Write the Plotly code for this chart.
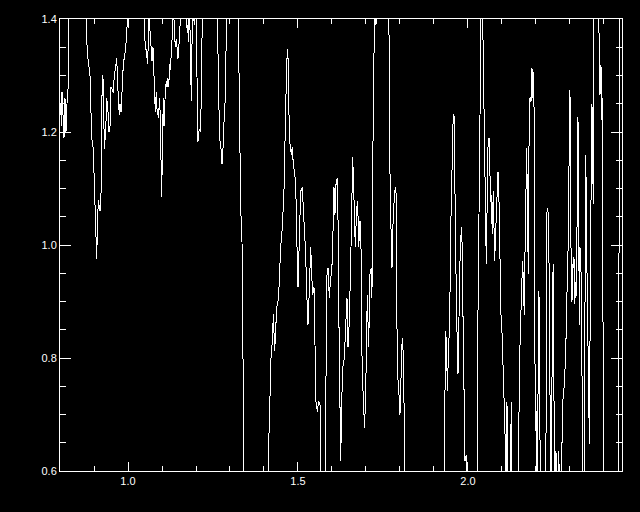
import plotly.graph_objects as go

wavelength = [
    0.8015, 0.8044, 0.8059, 0.8088, 0.8118, 0.8147, 0.8176, 0.8206, 0.8235, 0.8265, 0.8706,
    0.8735, 0.8803, 0.8882, 0.8932, 0.8979, 0.9029, 0.9059, 0.9079, 0.9097, 0.9126, 0.9176,
    0.9215, 0.9226, 0.9244, 0.9274, 0.9303, 0.9344, 0.9374, 0.9421, 0.9441, 0.9471, 0.9500,
    0.9568, 0.9597, 0.9647, 0.9668, 0.9715, 0.9744, 0.9765, 0.9794, 0.9832, 0.9862, 0.9912,
    0.9962, 1.0009,
    1.0456, 1.0485, 1.0515, 1.0550, 1.0579, 1.0609, 1.0626, 1.0647, 1.0676, 1.0706, 1.0735,
    1.0756, 1.0785, 1.0803, 1.0832, 1.0862, 1.0882, 1.0903, 1.0921, 1.0950, 1.0971, 1.0991,
    1.1009, 1.1038, 1.1059, 1.1079, 1.1097, 1.1126, 1.1147, 1.1176, 1.1197, 1.1226, 1.1256,
    1.1274, 1.1294, 1.1315, 1.1344, 1.1374, 1.1391, 1.1421, 1.1441, 1.1471, 1.1491, 1.1521,
    1.1550, 1.1588, 1.1685, 1.1715, 1.1744, 1.1785, 1.1803, 1.1832, 1.1862, 1.1882, 1.1903,
    1.1932, 1.1962, 1.1991, 1.2009, 1.2038, 1.2059, 1.2079, 1.2109, 1.2138, 1.2156, 1.2176,
    1.2197, 1.2618, 1.2638, 1.2647, 1.2668, 1.2697, 1.2726, 1.2744, 1.2765, 1.2794, 1.2815,
    1.2832, 1.2862, 1.2882, 1.2912, 1.3235, 1.3256, 1.3285, 1.3315, 1.3353, 1.3374, 1.3403,
    1.3426,
    1.4074, 1.4147, 1.4176, 1.4215, 1.4244, 1.4274, 1.4315, 1.4344, 1.4374, 1.4412, 1.4441,
    1.4491, 1.4538, 1.4588, 1.4618, 1.4647, 1.4685, 1.4706, 1.4735, 1.4765, 1.4803, 1.4832,
    1.4862, 1.4903, 1.4932, 1.4962, 1.5000, 1.5038, 1.5079, 1.5126, 1.5156, 1.5197, 1.5226,
    1.5256, 1.5294, 1.5332, 1.5374, 1.5403, 1.5432, 1.5471, 1.5500, 1.5529, 1.5568, 1.5609,
    1.5647, 1.5700, 1.5794, 1.5844, 1.5882, 1.5921, 1.5962, 1.5991, 1.6021, 1.6038, 1.6059,
    1.6088, 1.6118, 1.6156, 1.6168,
    1.6197, 1.6235, 1.6256, 1.6285, 1.6315, 1.6362, 1.6412, 1.6441, 1.6471, 1.6509, 1.6559,
    1.6588, 1.6609, 1.6638, 1.6668, 1.6685, 1.6726, 1.6756, 1.6785, 1.6824, 1.6853, 1.6882,
    1.6921, 1.6962, 1.7000, 1.7038, 1.7079, 1.7118, 1.7156, 1.7176, 1.7197, 1.7226, 1.7244,
    1.7294, 1.7324, 1.7662, 1.7685, 1.7715, 1.7744, 1.7765, 1.7785, 1.7803, 1.7832, 1.7862,
    1.7882, 1.7903, 1.7932, 1.7962, 1.7979, 1.8000, 1.8029, 1.8059, 1.8079, 1.8109, 1.8126,
    1.8147,
    1.9279, 1.9315, 1.9344, 1.9374, 1.9391, 1.9432, 1.9462, 1.9491, 1.9529, 1.9559, 1.9588,
    1.9609, 1.9626, 1.9656, 1.9685, 1.9706, 1.9735, 1.9765, 1.9803, 1.9832, 1.9853, 1.9882,
    1.9912, 1.9950, 1.9979, 2.0279, 2.0294, 2.0324, 2.0344, 2.0374, 2.0391, 2.0421, 2.0441,
    2.0471, 2.0491, 2.0509, 2.0538, 2.0559, 2.0588, 2.0618, 2.0638, 2.0668, 2.0685, 2.0715,
    2.0744, 2.0785, 2.0815, 2.0853, 2.0882, 2.0912, 2.0941, 2.0971, 2.1000, 2.1029, 2.1059,
    2.1088, 2.1118, 2.1147, 2.1176, 2.1226, 2.1274, 2.1303, 2.1471, 2.1500, 2.1529, 2.1579,
    2.1609, 2.1626, 2.1656, 2.1676, 2.1706, 2.1726, 2.1756, 2.1774, 2.1794, 2.1824, 2.1853,
    2.1882, 2.1903, 2.1921, 2.1941, 2.1962, 2.1979, 2.2000, 2.2021, 2.2050, 2.2068, 2.2088,
    2.2109, 2.2126, 2.2265, 2.2294, 2.2315, 2.2344, 2.2374, 2.2391, 2.2412, 2.2441, 2.2471,
    2.2491, 2.2509, 2.2529, 2.2550, 2.2588, 2.2626, 2.2668, 2.2685, 2.2726, 2.2785, 2.2815,
    2.2844, 2.2874, 2.2903, 2.2932, 2.2962, 2.2979, 2.3000, 2.3021, 2.3038, 2.3059, 2.3079,
    2.3097, 2.3118, 2.3138, 2.3156, 2.3176, 2.3197, 2.3215, 2.3235, 2.3256, 2.3274, 2.3294,
    2.3315, 2.3332, 2.3353, 2.3374, 2.3391, 2.3412, 2.3441, 2.3462, 2.3479, 2.3500, 2.3521,
    2.3538, 2.3568, 2.3588, 2.3609, 2.3626, 2.3647, 2.3668, 2.3685, 2.3706, 2.3844, 2.3862,
    2.3882, 2.3912, 2.3932, 2.3950, 2.3971, 2.3991, 2.4412, 2.4471, 2.4529,
]

flux = [
    1.25, 1.21, 1.27, 1.22, 1.19, 1.26, 1.20, 1.25, 1.27, 1.50, 1.50,
    1.45, 1.34, 1.30, 1.19, 1.17, 1.077, 1.00, 0.975, 1.02, 1.08, 1.06,
    1.10, 1.22, 1.30, 1.29, 1.17, 1.20, 1.26, 1.23, 1.20, 1.21, 1.28,
    1.27, 1.30, 1.32, 1.33, 1.26, 1.23, 1.25, 1.235, 1.28, 1.32, 1.34,
    1.37, 1.45,
    1.45, 1.37, 1.35, 1.33, 1.32, 1.39, 1.45, 1.38, 1.34, 1.325, 1.35,
    1.31, 1.27, 1.236, 1.27, 1.23, 1.235, 1.225, 1.26, 1.23, 1.15, 1.085,
    1.16, 1.26, 1.21, 1.255, 1.27, 1.29, 1.28, 1.295, 1.28, 1.32, 1.31,
    1.35, 1.36, 1.45, 1.39, 1.37, 1.35, 1.365, 1.35, 1.33, 1.345, 1.37,
    1.39, 1.45, 1.45, 1.385, 1.39, 1.36, 1.45, 1.32, 1.255, 1.35, 1.45,
    1.40, 1.39, 1.45, 1.35, 1.243, 1.183, 1.20, 1.205, 1.20, 1.28, 1.32,
    1.45, 1.45, 1.35, 1.32, 1.26, 1.19, 1.175, 1.165, 1.143, 1.17, 1.19,
    1.24, 1.255, 1.34, 1.45, 1.45, 1.32, 1.19, 1.066, 1.006, 0.86, 0.712,
    0.50,
    0.50, 0.670, 0.748, 0.819, 0.824, 0.877, 0.812, 0.847, 0.890, 0.900, 0.925,
    0.996, 1.031, 1.095, 1.208, 1.266, 1.346, 1.332, 1.231, 1.178, 1.160, 1.173,
    1.143, 1.125, 1.112, 1.019, 0.925, 1.006, 1.095, 1.102, 1.072, 1.019, 0.983,
    0.918, 0.859, 0.918, 0.996, 0.948, 0.912, 0.925, 0.847, 0.723, 0.705, 0.723,
    0.720, 0.50, 0.50, 0.943, 0.960, 0.907, 0.943, 0.948, 1.000, 1.042, 1.102,
    1.054, 1.107, 1.119, 1.112,
    0.900, 0.682, 0.617, 0.718, 0.783, 0.800, 0.854, 0.907, 0.819, 0.865, 0.996,
    1.102, 1.155, 1.102, 1.054, 0.996, 1.066, 1.077, 0.996, 1.042, 0.996, 0.806,
    0.723, 0.677, 0.771, 0.912, 0.819, 0.948, 0.960, 0.907, 1.183, 1.187, 1.45,
    1.39, 1.45, 1.45, 1.332, 1.042, 1.024, 0.960, 1.024, 1.054, 1.084, 1.102,
    1.102, 0.890, 0.771, 0.741, 0.730, 0.700, 0.776, 0.824, 0.836, 0.771, 0.677,
    0.50,
    0.50, 0.753, 0.847, 0.819, 0.741, 0.819, 0.865, 1.024, 1.172, 1.213, 1.231,
    1.172, 1.024, 0.877, 0.819, 0.771, 0.890, 0.971, 1.031, 0.996, 0.877, 0.700,
    0.617, 0.629, 0.50, 0.50, 0.877, 1.054, 1.219, 1.373, 1.45, 1.45, 1.35,
    1.29, 1.20, 1.066, 0.966, 1.054, 1.172, 1.190, 1.148, 1.077, 1.089, 1.019,
    1.095, 0.971, 1.024, 1.077, 1.130, 1.077, 0.94, 0.877, 0.847, 0.759, 0.730,
    0.670, 0.50, 0.723, 0.50, 0.50, 0.723, 0.50, 0.50, 0.700, 0.820, 0.925,
    0.971, 0.935, 0.877, 0.983, 1.148, 1.172, 1.036, 0.948, 1.172, 1.261, 1.254,
    1.314, 1.261, 1.307, 1.261, 0.771, 0.670, 0.712, 0.50, 0.50, 0.918, 0.912,
    0.842, 0.50, 0.50, 0.642, 1.054, 1.066, 1.042, 0.819, 0.739, 0.50, 0.877,
    0.935, 0.966, 0.642, 0.50, 0.635, 0.50, 0.635, 0.50, 0.50, 0.723, 0.735,
    0.771, 0.800, 0.907, 0.935, 1.095, 1.236, 1.275, 1.024, 0.935, 0.900, 0.966,
    0.960, 0.978, 0.895, 0.935, 0.907, 0.960, 1.049, 1.226, 1.054, 0.859, 0.996,
    0.983, 0.925, 0.819, 0.771, 0.50, 0.50, 1.077, 1.160, 1.089, 0.935, 0.824,
    0.819, 0.647, 0.819, 1.143, 1.143, 1.249, 1.130, 1.072, 1.45, 1.45, 1.314,
    1.266, 1.319, 1.222, 1.260, 0.82, 0.50, 0.50, 1.45, 1.45,
]

x_range = [0.8, 2.453]
y_range = [0.6, 1.4]
x_ticks = [1.0, 1.5, 2.0]
x_tick_labels = ["1.0", "1.5", "2.0"]
y_ticks = [0.6, 0.8, 1.0, 1.2, 1.4]
y_tick_labels = ["0.6", "0.8", "1.0", "1.2", "1.4"]

fig = go.Figure()
fig.add_trace(go.Scatter(
    x=wavelength, y=flux, mode="lines",
    line=dict(color="white", width=1),
    showlegend=False, hoverinfo="skip",
))

font = dict(family="Liberation Sans, Arial, sans-serif", size=11, color="white")

fig.update_layout(
    width=640, height=512,
    paper_bgcolor="black", plot_bgcolor="black",
    margin=dict(l=60, r=18, t=19, b=41, autoexpand=False),
    font=font,
    xaxis=dict(
        range=x_range, showgrid=False, zeroline=False, automargin=False,
        showline=True, linecolor="white", linewidth=1, mirror="ticks",
        ticks="inside", ticklen=9, tickwidth=1, tickcolor="white",
        tickvals=x_ticks, ticktext=x_tick_labels, tickfont=font,
        minor=dict(dtick=0.1, tick0=0, ticks="inside", ticklen=5,
                   tickwidth=1, tickcolor="white", showgrid=False),
    ),
    yaxis=dict(
        range=y_range, showgrid=False, zeroline=False, automargin=False,
        showline=True, linecolor="white", linewidth=1, mirror="ticks",
        ticks="inside", ticklen=11, tickwidth=1, tickcolor="white",
        tickvals=y_ticks, ticktext=y_tick_labels, tickfont=font,
        minor=dict(dtick=0.05, tick0=0, ticks="inside", ticklen=6,
                   tickwidth=1, tickcolor="white", showgrid=False),
    ),
)

fig.write_html(
    "out.html",
    config={"displayModeBar": False, "staticPlot": True},
    post_script=(
        "document.body.style.margin='0';"
        "document.body.style.background='black';"
        "document.querySelectorAll('.scatterlayer path').forEach(function(p){"
        "p.style.shapeRendering='crispEdges';});"
    ),
)
